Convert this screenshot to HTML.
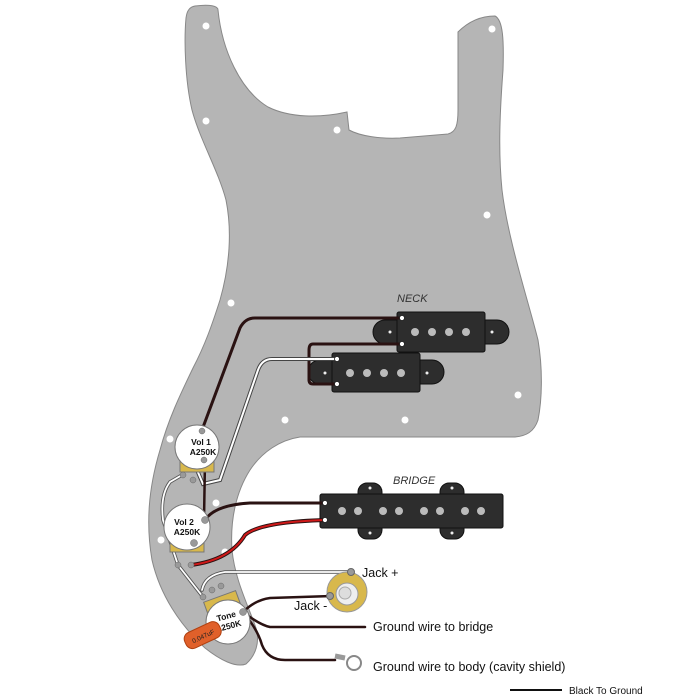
<!DOCTYPE html>
<html><head><style>body{margin:0;background:#fff}svg{display:block}text{font-family:"Liberation Sans",sans-serif}</style></head><body>
<svg width="700" height="700" viewBox="0 0 700 700" xmlns="http://www.w3.org/2000/svg">
<path d="M195,6 C210,4 218,6 218,10 C222,50 240,90 268,107 C290,118 320,118 347,112 L349,130 C360,136 380,139 400,138 L448,134 C456,132 458,125 458,110 L458,32 C468,22 480,16 495,16 C503,20 504,40 503,70 C500,110 498,150 502,190 C508,240 528,300 538,340 C543,370 542,400 538,420 C534,432 526,436 515,437 L300,437 C280,440 262,452 250,470 C236,492 230,520 232,550 C235,580 248,605 256,628 C260,642 256,655 246,664 C236,668 220,660 205,648 C180,625 160,595 152,560 C146,525 148,490 160,450 C168,420 180,395 193,368 C205,345 212,325 220,300 C230,265 232,230 226,200 C218,170 200,140 192,110 C185,80 184,40 186,18 C187,10 190,7 195,6 Z" fill="#b5b5b5" stroke="#888" stroke-width="1"/>
<g fill="#fff">
<circle cx="206" cy="26" r="3.5"/><circle cx="492" cy="29" r="3.5"/><circle cx="206" cy="121" r="3.5"/><circle cx="337" cy="130" r="3.5"/><circle cx="487" cy="215" r="3.5"/><circle cx="231" cy="303" r="3.5"/><circle cx="518" cy="395" r="3.5"/><circle cx="285" cy="420" r="3.5"/><circle cx="405" cy="420" r="3.5"/><circle cx="170" cy="439" r="3.5"/><circle cx="216" cy="503" r="3.5"/><circle cx="161" cy="540" r="3.5"/><circle cx="225" cy="552" r="3.5"/>
</g>
<text x="397" y="302" font-size="11" font-style="italic" fill="#333" font-family="Liberation Serif">NECK</text>
<g fill="#2d2d2d" stroke="#111">
<path d="M397,320 L385,320 A12,12 0 0 0 385,344 L397,344 Z"/><path d="M485,320 L497,320 A12,12 0 0 1 497,344 L485,344 Z"/>
<rect x="397" y="312" width="88" height="40" rx="2"/>
<path d="M332,360 L320,360 A12,12 0 0 0 320,384 L332,384 Z"/><path d="M420,360 L432,360 A12,12 0 0 1 432,384 L420,384 Z"/>
<rect x="332" y="353" width="88" height="39" rx="2"/>
</g>
<g fill="#bbb"><circle cx="415" cy="332" r="4"/><circle cx="432" cy="332" r="4"/><circle cx="449" cy="332" r="4"/><circle cx="466" cy="332" r="4"/>
<circle cx="350" cy="373" r="4"/><circle cx="367" cy="373" r="4"/><circle cx="384" cy="373" r="4"/><circle cx="401" cy="373" r="4"/></g>
<g fill="#eee"><circle cx="390" cy="332" r="1.5"/><circle cx="492" cy="332" r="1.5"/><circle cx="325" cy="373" r="1.5"/><circle cx="427" cy="373" r="1.5"/></g>
<text x="393" y="484" font-size="11" font-style="italic" fill="#333" font-family="Liberation Serif">BRIDGE</text>
<g fill="#2d2d2d" stroke="#111">
<rect x="358" y="483" width="24" height="56" rx="9"/><rect x="440" y="483" width="24" height="56" rx="9"/>
<rect x="320" y="494" width="183" height="34" rx="2"/>
</g>
<g fill="#bbb"><circle cx="342" cy="511" r="4"/><circle cx="358" cy="511" r="4"/><circle cx="383" cy="511" r="4"/><circle cx="399" cy="511" r="4"/><circle cx="424" cy="511" r="4"/><circle cx="440" cy="511" r="4"/><circle cx="465" cy="511" r="4"/><circle cx="481" cy="511" r="4"/></g>
<g fill="#eee"><circle cx="370" cy="488" r="1.5"/><circle cx="452" cy="488" r="1.5"/><circle cx="370" cy="533" r="1.5"/><circle cx="452" cy="533" r="1.5"/></g>
<g fill="none" stroke-linecap="round">
<path d="M402,318 L255,318 Q245,318 240,328 L202,430" stroke="#2a1212" stroke-width="3"/>
<path d="M402,344 L313,344 Q309,344 309,350 L309,380 Q309,384 313,384 L337,384" stroke="#2a1212" stroke-width="3"/>
<path d="M337,359 L272,359 Q262,359 258,370 L220,480 L203,484 L197,470" stroke="#444" stroke-width="4"/>
<path d="M337,359 L272,359 Q262,359 258,370 L220,480 L203,484 L197,470" stroke="#fff" stroke-width="2"/>
<path d="M205,460 L204,520" stroke="#2a1212" stroke-width="2.5"/>
<path d="M205,520 Q215,505 250,503 L325,503" stroke="#2a1212" stroke-width="3"/>
<path d="M191,565 Q230,560 245,535 Q260,522 325,520" stroke="#2a1212" stroke-width="4"/>
<path d="M191,565 Q230,560 245,535 Q260,522 325,520" stroke="#d01818" stroke-width="2"/>
<path d="M182,475 L170,482 Q160,495 163,520 L178,565 L203,597" stroke="#555" stroke-width="3.5"/>
<path d="M182,475 L170,482 Q160,495 163,520 L178,565 L203,597" stroke="#fff" stroke-width="1.8"/>
<path d="M352,572 L225,572 Q205,575 202,590" stroke="#555" stroke-width="3.5"/>
<path d="M352,572 L225,572 Q205,575 202,590" stroke="#fff" stroke-width="1.8"/>
<path d="M332,596 L270,598 Q255,600 243,612" stroke="#2a1212" stroke-width="2.5"/>
<path d="M243,612 Q260,625 270,627 L365,627" stroke="#2a1212" stroke-width="2.5"/>
<path d="M243,612 Q258,630 262,645 Q268,660 285,660 L335,660" stroke="#2a1212" stroke-width="2.5"/>
<path d="M240,615 Q235,630 228,638" stroke="#2a1212" stroke-width="2"/>
</g>
<g fill="#fff" stroke="#222" stroke-width="0.8">
<circle cx="402" cy="318" r="2.5"/><circle cx="402" cy="344" r="2.5"/><circle cx="337" cy="359" r="2.5"/><circle cx="337" cy="384" r="2.5"/><circle cx="325" cy="503" r="2.5"/><circle cx="325" cy="520" r="2.5"/>
</g>
<g stroke="#777" stroke-width="1">
<rect x="180" y="460" width="34" height="12" fill="#d8b84c"/>
<rect x="170" y="540" width="34" height="12" fill="#d8b84c"/>
<rect x="205" y="596" width="34" height="14" fill="#d8b84c" transform="rotate(-20 222 603)"/>
<circle cx="197" cy="447" r="22" fill="#fff"/>
<circle cx="187" cy="527" r="23" fill="#fff"/>
<circle cx="228" cy="622" r="22" fill="#fff"/>
</g>
<g fill="#999" stroke="#666" stroke-width=".5">
<circle cx="202" cy="431" r="3"/><circle cx="204" cy="460" r="3"/><circle cx="183" cy="475" r="3"/><circle cx="193" cy="480" r="3"/>
<circle cx="205" cy="520" r="3.5"/><circle cx="194" cy="543" r="3.5"/><circle cx="178" cy="565" r="3"/><circle cx="191" cy="565" r="3"/>
<circle cx="243" cy="612" r="3.5"/><circle cx="203" cy="597" r="3"/><circle cx="212" cy="590" r="3"/><circle cx="221" cy="586" r="3"/>
</g>
<g font-weight="bold" font-size="8.5" text-anchor="middle" fill="#111">
<text x="201" y="445">Vol 1</text><text x="203" y="455">A250K</text>
<text x="184" y="525">Vol 2</text><text x="187" y="535">A250K</text>
<text x="227" y="619" transform="rotate(-15 227 619)">Tone</text><text x="229" y="629" transform="rotate(-15 229 629)">A250K</text>
</g>
<g transform="rotate(-25 202 636)"><rect x="184" y="627" width="38" height="17" rx="7" fill="#e0602a" stroke="#b04010"/><text x="203" y="639" font-size="6.5" text-anchor="middle" fill="#222">0.047uF</text></g>
<circle cx="347" cy="592" r="20" fill="#d8b84c" stroke="#999"/>
<circle cx="347" cy="594" r="11" fill="#eee" stroke="#999"/>
<circle cx="345" cy="593" r="6" fill="#ddd" stroke="#aaa"/>
<circle cx="351" cy="572" r="3.5" fill="#999" stroke="#666"/>
<circle cx="330" cy="596" r="3.5" fill="#999" stroke="#666"/>
<path d="M335,656 L345,658" stroke="#999" stroke-width="5"/>
<circle cx="354" cy="663" r="7" fill="#fff" stroke="#888" stroke-width="2"/>
<g font-size="12.5" fill="#111">
<text x="362" y="577">Jack +</text><text x="294" y="610">Jack -</text>
<text x="373" y="631">Ground wire to bridge</text>
<text x="373" y="671">Ground wire to body (cavity shield)</text>
</g>
<line x1="510" y1="690" x2="562" y2="690" stroke="#111" stroke-width="2"/>
<text x="569" y="694" font-size="10" fill="#111">Black To Ground</text>
</svg>
</body></html>
